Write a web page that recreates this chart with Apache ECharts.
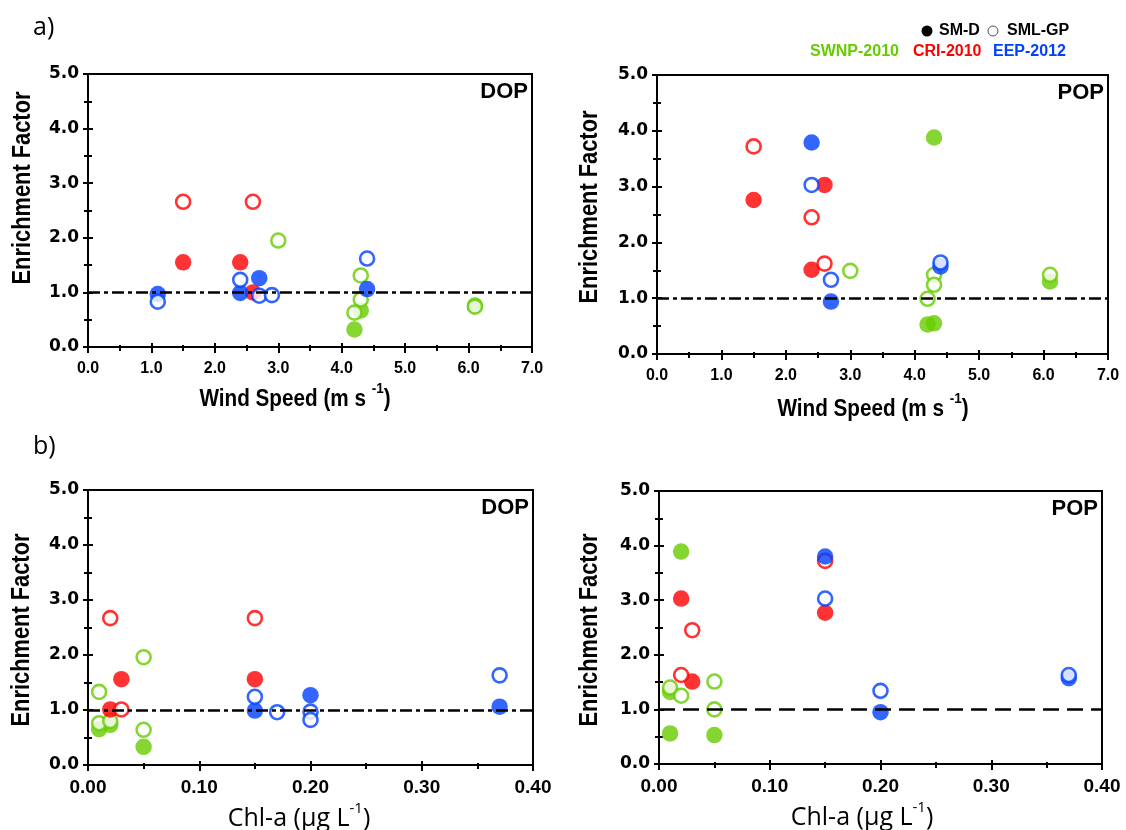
<!DOCTYPE html>
<html><head><meta charset="utf-8">
<script src="https://cdn.jsdelivr.net/npm/echarts@6/dist/echarts.min.js"></script>
<style>html,body{margin:0;padding:0;background:#fff}#c{width:1126px;height:830px}</style>
</head><body><div id="c"></div><script>
// ---- data (x, Enrichment Factor) ----
// a) DOP vs wind speed
const dopWind_SWNP_D  = [[4.2,0.32],[4.3,0.67],[6.1,0.76]];
const dopWind_SWNP_GP = [[3.0,1.95],[4.3,1.31],[4.3,0.87],[4.2,0.63],[6.1,0.74]];
const dopWind_CRI_D   = [[1.5,1.55],[2.4,1.55],[2.6,1.00]];
const dopWind_CRI_GP  = [[1.5,2.66],[2.6,2.66]];
const dopWind_EEP_D   = [[1.1,0.97],[2.4,0.99],[2.7,1.26],[4.4,1.06]];
const dopWind_EEP_GP  = [[1.1,0.83],[2.4,1.23],[2.7,0.94],[2.9,0.95],[4.4,1.62]];
// a) POP vs wind speed
const popWind_SWNP_D  = [[4.3,3.88],[4.2,0.53],[4.3,0.55],[6.1,1.30]];
const popWind_SWNP_GP = [[3.0,1.49],[4.3,1.42],[4.3,1.24],[4.2,0.99],[6.1,1.42]];
const popWind_CRI_D   = [[1.5,2.76],[2.6,3.03],[2.4,1.51]];
const popWind_CRI_GP  = [[1.5,3.72],[2.4,2.45],[2.6,1.62]];
const popWind_EEP_D   = [[2.4,3.79],[2.7,0.94],[4.4,1.57]];
const popWind_EEP_GP  = [[2.4,3.03],[2.7,1.33],[4.4,1.64]];
// b) DOP vs Chl-a
const dopChl_SWNP_D  = [[0.01,0.65],[0.02,0.73],[0.05,0.33]];
const dopChl_SWNP_GP = [[0.01,1.33],[0.01,0.76],[0.02,0.80],[0.05,1.96],[0.05,0.64]];
const dopChl_CRI_D   = [[0.03,1.56],[0.15,1.56],[0.02,1.01]];
const dopChl_CRI_GP  = [[0.02,2.67],[0.15,2.67],[0.03,1.01]];
const dopChl_EEP_D   = [[0.15,0.99],[0.20,1.27],[0.37,1.06]];
const dopChl_EEP_GP  = [[0.15,1.24],[0.17,0.96],[0.20,0.97],[0.20,0.82],[0.37,1.63]];
// b) POP vs Chl-a
const popChl_SWNP_D  = [[0.02,3.89],[0.01,1.32],[0.01,0.56],[0.05,0.53]];
const popChl_SWNP_GP = [[0.01,1.40],[0.02,1.25],[0.05,1.51],[0.05,1.00]];
const popChl_CRI_D   = [[0.02,3.03],[0.03,1.51],[0.15,2.77]];
const popChl_CRI_GP  = [[0.03,2.45],[0.02,1.63],[0.15,3.72]];
const popChl_EEP_D   = [[0.15,3.80],[0.20,0.95],[0.37,1.57]];
const popChl_EEP_GP  = [[0.15,3.03],[0.20,1.34],[0.37,1.63]];

const cruises = ['SWNP-2010','CRI-2010','EEP-2012'];
const layers = ['SM-D','SML-GP'];
const referenceLevel = 1.0;
const windRange = [0, 7];
const chlRange = [0, 0.4];
const efRange = [0, 5];

// ---- style ----
const COLORS = ['#66cc00', '#ff0000', '#0040ff'];
const ARIAL = "'Liberation Sans',Arial,sans-serif";
const DEJA = "'DejaVu Sans',sans-serif";
const CALI = "'Open Sans','Noto Sans',sans-serif";

const panels = [
  {grid:{left:88,top:74,width:444,height:273}, range:windRange, interval:1, dec:1, labelFont:ARIAL, labelSize:16, labelMargin:14, title:'DOP',
   dash:[12,4,4,4], sets:[dopWind_SWNP_D,dopWind_SWNP_GP,dopWind_CRI_D,dopWind_CRI_GP,dopWind_EEP_D,dopWind_EEP_GP]},
  {grid:{left:657,top:75,width:451,height:279}, range:windRange, interval:1, dec:1, labelFont:ARIAL, labelSize:16, labelMargin:14, title:'POP',
   dash:[12,4,4,4], sets:[popWind_SWNP_D,popWind_SWNP_GP,popWind_CRI_D,popWind_CRI_GP,popWind_EEP_D,popWind_EEP_GP]},
  {grid:{left:88,top:490,width:445,height:275}, range:chlRange, interval:0.1, dec:2, labelFont:ARIAL, labelSize:19, labelMargin:13, title:'DOP',
   dash:[12,4,4,4], sets:[dopChl_SWNP_D,dopChl_SWNP_GP,dopChl_CRI_D,dopChl_CRI_GP,dopChl_EEP_D,dopChl_EEP_GP]},
  {grid:{left:659,top:491,width:443,height:273}, range:chlRange, interval:0.1, dec:2, labelFont:ARIAL, labelSize:19, labelMargin:13, title:'POP',
   dash:[16,8], sets:[popChl_SWNP_D,popChl_SWNP_GP,popChl_CRI_D,popChl_CRI_GP,popChl_EEP_D,popChl_EEP_GP]}
];

const grids = [], xAxes = [], yAxes = [], series = [], graphics = [];
const axLine = {show:true, lineStyle:{color:'#000', width:2}};
panels.forEach((p, i) => {
  grids.push(Object.assign({show:true, borderColor:'#000', borderWidth:2, containLabel:false}, p.grid));
  const xBase = {type:'value', gridIndex:i, min:p.range[0], max:p.range[1], interval:p.interval, position:'bottom', splitLine:{show:false}};
  xAxes.push(Object.assign({}, xBase, {
    axisLine:axLine, axisTick:{show:true, length:6, lineStyle:{color:'#000', width:2}},
    minorTick:{show:true, splitNumber:2, length:4, lineStyle:{color:'#000', width:2}},
    axisLabel:{color:'#000', fontFamily:p.labelFont, fontWeight:'bold', fontSize:p.labelSize, margin:p.labelMargin,
      formatter:v => v.toFixed(p.dec)}
  }));
  xAxes.push(Object.assign({}, xBase, {
    axisLine:{show:false}, axisTick:{show:true, inside:true, length:4, lineStyle:{color:'#000', width:2}},
    minorTick:{show:true, splitNumber:2, length:2, lineStyle:{color:'#000', width:2}}, axisLabel:{show:false}
  }));
  const yBase = {type:'value', gridIndex:i, min:efRange[0], max:efRange[1], interval:1, position:'left', splitLine:{show:false}};
  yAxes.push(Object.assign({}, yBase, {
    axisLine:axLine, axisTick:{show:true, length:5, lineStyle:{color:'#000', width:2}},
    minorTick:{show:true, splitNumber:2, length:4, lineStyle:{color:'#000', width:2}},
    axisLabel:{color:'#000', fontFamily:DEJA, fontWeight:'bold', fontSize:17, margin:9, formatter:v => v.toFixed(1)}
  }));
  yAxes.push(Object.assign({}, yBase, {
    axisLine:{show:false}, axisTick:{show:true, inside:true, length:5, lineStyle:{color:'#000', width:2}},
    minorTick:{show:true, splitNumber:2, length:4, lineStyle:{color:'#000', width:2}}, axisLabel:{show:false}
  }));
  p.sets.forEach((d, k) => {
    const c = COLORS[Math.floor(k/2)];
    const filled = k % 2 === 0;
    series.push({
      type:'scatter', name: cruises[Math.floor(k/2)] + ' ' + layers[k%2],
      xAxisIndex:2*i, yAxisIndex:2*i, data:d,
      symbol:'circle', symbolSize: filled ? 16.5 : 14,
      itemStyle: filled ? {color:c} : {color:'#fff', borderColor:c, borderWidth:2.6},
      emphasis:{disabled:true}
    });
  });
  series.push({
    type:'line', xAxisIndex:2*i, yAxisIndex:2*i, data:[], z:10,
    markLine:{silent:true, symbol:'none', label:{show:false},
      lineStyle:{color:'#000', width:2.5, type:p.dash}, data:[{yAxis:referenceLevel}]}
  });
  const g = p.grid;
  graphics.push({type:'text', x:g.left+g.width-4, y:g.top+7, style:{text:p.title, font:"bold 22px " + ARIAL, fill:'#000', textAlign:'right', textVerticalAlign:'top'}});
});

// axis names
const yNamePos = [[23,188],[590,207],[22,630],[590,630]];
yNamePos.forEach(pos => graphics.push({type:'text', x:pos[0], y:pos[1], rotation:Math.PI/2, scaleX:0.84,
  style:{text:'Enrichment Factor', font:"bold 26px " + ARIAL, fill:'#000', textAlign:'center', textVerticalAlign:'middle'}}));
const windNamePos = [[295,396],[873,406]];
windNamePos.forEach(pos => graphics.push({type:'text', x:pos[0], y:pos[1], scaleX:0.9,
  style:{text:'{a|Wind Speed (m s }{s|-1}{a|)}', fill:'#000', textAlign:'center', textVerticalAlign:'middle',
    rich:{a:{fontFamily:ARIAL, fontWeight:'bold', fontSize:23, lineHeight:30, verticalAlign:'bottom'},
          s:{fontFamily:ARIAL, fontWeight:'bold', fontSize:15, lineHeight:30, verticalAlign:'top'}}}}));
const chlNamePos = [[299,816],[862,815]];
chlNamePos.forEach(pos => graphics.push({type:'text', x:pos[0], y:pos[1],
  style:{text:'{a|Chl-a (µg L}{s|-1}{a|)}', fill:'#000', textAlign:'center', textVerticalAlign:'middle',
    rich:{a:{fontFamily:CALI, fontSize:25, lineHeight:30, verticalAlign:'bottom'},
          s:{fontFamily:CALI, fontSize:15, lineHeight:30, verticalAlign:'top'}}}}));
// panel letters
graphics.push({type:'text', x:33, y:28, style:{text:'a)', font:"25px " + CALI, fill:'#000', textVerticalAlign:'middle'}});
graphics.push({type:'text', x:33, y:447, style:{text:'b)', font:"25px " + CALI, fill:'#000', textVerticalAlign:'middle'}});
// legend
graphics.push({type:'circle', shape:{cx:927, cy:31, r:5.5}, style:{fill:'#000'}});
graphics.push({type:'text', x:939, y:31, style:{text:layers[0], font:"bold 16px " + ARIAL, fill:'#000', textVerticalAlign:'middle'}});
graphics.push({type:'circle', shape:{cx:993, cy:31, r:5}, style:{fill:'#fff', stroke:'#555', lineWidth:1}});
graphics.push({type:'text', x:1007, y:31, style:{text:layers[1], font:"bold 16px " + ARIAL, fill:'#000', textVerticalAlign:'middle'}});
const legX = [810, 913, 993];
cruises.forEach((c, k) => graphics.push({type:'text', x:legX[k], y:52,
  style:{text:c, font:"bold 16px " + ARIAL, fill:COLORS[k], textVerticalAlign:'middle'}}));

const chart = echarts.init(document.getElementById('c'), null, {renderer:'canvas'});
chart.setOption({
  animation:false, backgroundColor:'#fff',
  grid:grids, xAxis:xAxes, yAxis:yAxes, series:series, graphic:graphics
});
</script></body></html>
